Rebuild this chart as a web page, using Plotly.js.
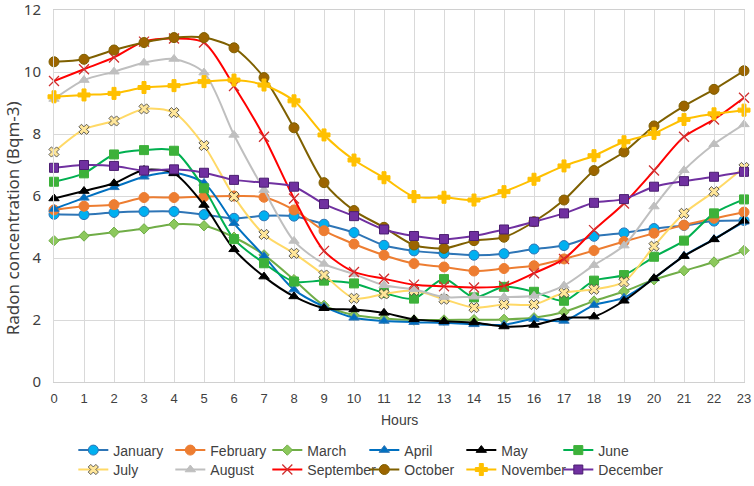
<!DOCTYPE html>
<html>
<head>
<meta charset="utf-8">
<script src="https://cdn.plot.ly/plotly-3.0.1.min.js"></script>
<style>html,body{margin:0;padding:0;background:#fff;}#chart{width:754px;height:486px;}</style>
</head>
<body>
<div id="chart"></div>
<script>
const hours = [0,1,2,3,4,5,6,7,8,9,10,11,12,13,14,15,16,17,18,19,20,21,22,23];
const monthNames = ["January","February","March","April","May","June","July","August","September","October","November","December"];
const january  = [5.41,5.40,5.47,5.50,5.50,5.40,5.28,5.36,5.35,5.09,4.82,4.41,4.23,4.15,4.09,4.14,4.29,4.40,4.70,4.81,4.95,5.05,5.19,5.21];
const february = [5.55,5.67,5.72,5.95,5.95,5.98,6.00,5.96,5.55,4.88,4.45,4.09,3.82,3.71,3.58,3.66,3.75,3.97,4.24,4.53,4.80,5.06,5.28,5.48];
const march    = [4.56,4.71,4.83,4.94,5.09,5.04,4.67,4.10,3.30,2.47,2.16,2.05,2.00,2.00,2.01,2.02,2.07,2.26,2.61,2.92,3.30,3.59,3.87,4.24];
const april    = [5.58,5.94,6.28,6.62,6.75,6.42,5.12,4.06,2.98,2.43,2.07,1.97,1.93,1.91,1.86,1.85,2.03,1.97,2.48,2.72,3.34,4.07,4.61,5.17];
const may      = [5.92,6.16,6.41,6.84,6.73,5.71,4.28,3.40,2.76,2.38,2.34,2.23,2.02,1.96,1.92,1.79,1.84,2.07,2.11,2.62,3.35,4.06,4.60,5.20];
const june     = [6.46,6.73,7.34,7.48,7.46,6.25,4.61,3.83,3.24,3.27,3.18,2.87,2.69,3.32,2.73,3.07,2.91,2.62,3.27,3.45,4.04,4.56,5.44,5.89];
const july     = [7.42,8.15,8.42,8.81,8.69,7.63,5.98,4.76,4.15,3.45,2.70,2.84,2.95,2.67,2.40,2.50,2.50,2.88,2.99,3.23,4.38,5.44,6.14,6.92];
const august   = [9.13,9.74,10.01,10.30,10.42,9.98,7.97,6.19,4.55,3.81,3.48,3.12,2.99,2.74,2.75,2.74,2.78,3.11,3.77,4.40,5.66,6.83,7.67,8.31];
const september= [9.71,10.09,10.47,10.98,11.08,10.95,9.55,7.91,5.92,4.23,3.55,3.33,3.14,3.09,3.05,3.10,3.51,3.97,4.90,5.76,6.82,7.91,8.47,9.17];
const october  = [10.33,10.41,10.71,10.95,11.11,11.11,10.78,9.82,8.20,6.43,5.53,4.99,4.42,4.31,4.56,4.67,5.17,5.87,6.82,7.42,8.26,8.90,9.44,10.04];
const november = [9.20,9.26,9.31,9.50,9.56,9.69,9.74,9.58,9.07,7.97,7.16,6.59,5.98,5.96,5.87,6.14,6.54,6.97,7.30,7.75,8.02,8.47,8.65,8.77];
const december = [6.91,7.00,6.97,6.82,6.86,6.75,6.52,6.43,6.30,5.74,5.35,4.92,4.71,4.61,4.71,4.92,5.17,5.44,5.78,5.90,6.30,6.48,6.62,6.78];
const yTicks = [0,2,4,6,8,10,12];
const xAxisTitle = "Hours";
const yAxisTitle = "Radon concentration (Bqm-3)";

const seriesValues = [january,february,march,april,may,june,july,august,september,october,november,december];
const styles = [
  {line:"#2E75B6", mc:"#00B0F0", ml:"#2E75B6", sym:"circle", size:10, mlw:1},
  {line:"#ED7D31", mc:"#ED7D31", ml:"#ED7D31", sym:"circle", size:10, mlw:1},
  {line:"#70AD47", mc:"#8CC85C", ml:"#70AD47", sym:"diamond", size:8, mlw:1},
  {line:"#0070C0", mc:"#0070C0", ml:"#2E75B6", sym:"triangle-up", size:9, mlw:1},
  {line:"#000000", mc:"#000000", ml:"#000000", sym:"triangle-up", size:9, mlw:1},
  {line:"#00B050", mc:"#3DB13A", ml:"#3DB13A", sym:"square", size:9, mlw:1},
  {line:"#FFD966", mc:"#FFE699", ml:"#3A3A3A", sym:"x", size:9, mlw:0.8},
  {line:"#BFBFBF", mc:"#BFBFBF", ml:"#BFBFBF", sym:"triangle-up", size:9, mlw:1},
  {line:"#FF0000", mc:"#D03030", ml:"#D03030", sym:"x-thin", size:10, mlw:1.3},
  {line:"#7F6000", mc:"#9C6500", ml:"#7F6000", sym:"circle", size:10, mlw:1},
  {line:"#FFC000", mc:"#FFC000", ml:"#FFC000", sym:"cross", size:10, mlw:1},
  {line:"#7030A0", mc:"#7030A0", ml:"#4B1E70", sym:"square", size:9, mlw:1}
];

const traces = seriesValues.map((vals, i) => ({
  type: "scatter",
  mode: "lines+markers",
  name: monthNames[i],
  x: hours,
  y: vals,
  cliponaxis: false,
  legend: i < 6 ? "legend" : "legend2",
  legendwidth: (i === 5 || i === 11) ? 80 : 52,
  line: {color: styles[i].line, width: 2, shape: "spline", smoothing: 0.8},
  marker: {symbol: styles[i].sym, size: styles[i].size, color: styles[i].mc,
           line: {color: styles[i].ml, width: styles[i].mlw}}
}));

const legendBase = {
  orientation: "h", x: 0.028, xanchor: "left", yref: "container", yanchor: "top",
  font: {family: "Liberation Sans, Arial, sans-serif", size: 14, color: "#404040"},
  itemwidth: 30, bgcolor: "rgba(0,0,0,0)", borderwidth: 0
};

const layout = {
  width: 754, height: 486,
  margin: {l: 54, r: 10, t: 10, b: 104, autoexpand: false},
  paper_bgcolor: "#ffffff", plot_bgcolor: "#ffffff",
  font: {family: "Liberation Sans, Arial, sans-serif", color: "#595959", size: 13},
  showlegend: true,
  legend: Object.assign({}, legendBase, {y: 0.106}),
  legend2: Object.assign({}, legendBase, {y: 0.066}),
  xaxis: {
    range: [0, 23], tickmode: "array", tickvals: hours, ticktext: hours.map(String),
    showgrid: true, gridcolor: "#D9D9D9", gridwidth: 1,
    zeroline: false, showline: true, mirror: true, linecolor: "#D0D0D0", linewidth: 1,
    ticks: "", ticklabelstandoff: 4,
    tickfont: {family: "Liberation Sans, Arial, sans-serif", size: 13, color: "#404040"},
    fixedrange: true
  },
  yaxis: {
    range: [0, 12], tickmode: "array", tickvals: yTicks, ticktext: yTicks.map(String),
    showgrid: true, gridcolor: "#D9D9D9", gridwidth: 1,
    zeroline: false, showline: true, mirror: true, linecolor: "#D9D9D9", linewidth: 1,
    ticks: "", ticklabelstandoff: 9, ticklabeloverflow: "allow",
    tickfont: {family: "Noto Sans, sans-serif", size: 15, color: "#404040"},
    fixedrange: true
  },
  annotations: [
    {text: xAxisTitle, xref: "paper", yref: "paper", x: 0.5, y: -0.102, xanchor: "center", yanchor: "middle",
     showarrow: false, font: {family: "Liberation Sans, Arial, sans-serif", size: 14, color: "#404040"}},
    {text: yAxisTitle, xref: "paper", yref: "paper", x: -0.0609, y: 0.44, xanchor: "center", yanchor: "middle",
     textangle: -90, showarrow: false, font: {family: "Noto Sans, sans-serif", size: 17, color: "#404040"}}
  ]
};

Plotly.newPlot("chart", traces, layout, {staticPlot: true, displayModeBar: false});
</script>
</body>
</html>
